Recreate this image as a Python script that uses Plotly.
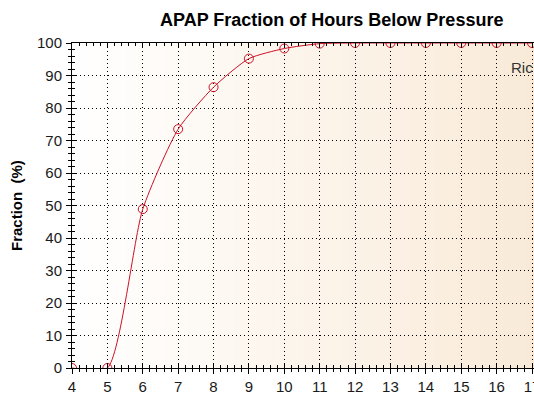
import plotly.graph_objects as go

# Data
pressure = [4, 5, 6, 7, 8, 9, 10, 11, 12, 13, 14, 15, 16, 17]
fraction = [0, 0, 48.9, 73.5, 86.4, 95.2, 98.3, 99.8, 100, 100, 100, 100, 100, 100]
x_ticks = list(range(4, 18))
y_ticks = list(range(0, 101, 10))

title_text = "APAP Fraction of Hours Below Pressure"
y_title = "Fraction  (%)"
legend_text = "Ric"

W, H = 534, 397
ML = 72
MT = 43
MB = 397 - 368
MR = 0
PW = W - ML - MR
PH = H - MT - MB

RED = "#cc1126"
font_family = "Liberation Sans, Arial, sans-serif"

fig = go.Figure()

fig.add_trace(go.Scatter(
    x=pressure, y=fraction, mode="lines+markers",
    line=dict(color=RED, width=1, shape="spline", smoothing=0.6),
    marker=dict(symbol="circle-open", size=9, color=RED, line=dict(width=1, color=RED)),
    showlegend=False, hoverinfo="skip", cliponaxis=True,
))
# invisible trace to activate the overlay axes (for crossing ticks)
fig.add_trace(go.Scatter(
    x=pressure, y=fraction, xaxis="x2", yaxis="y2", mode="lines",
    line=dict(width=0, color="rgba(0,0,0,0)"), showlegend=False, hoverinfo="skip",
))

# gradient background strips
N = 60
c0 = (255, 255, 255)
c1 = (249, 234, 216)
shapes = []
for i in range(N):
    t = (i + 0.5) / N
    col = tuple(round(c0[k] + (c1[k] - c0[k]) * t) for k in range(3))
    shapes.append(dict(
        type="rect", xref="paper", yref="paper",
        x0=i / N, x1=(i + 1) / N + 0.002, y0=0, y1=1,
        fillcolor="rgb(%d,%d,%d)" % col, line=dict(width=0), layer="below",
    ))

px_per_unit = (532 - 72) / 13
xr = [4, 17 + 2 / px_per_unit]

axis_common = dict(
    showline=True, linecolor="black", linewidth=1,
    tickcolor="black", tickwidth=1, zeroline=False,
)


def fx(win_x):
    return (win_x - ML) / PW


def fy(win_y):
    return (H - MB - win_y) / PH


fig.update_layout(
    width=W, height=H,
    margin=dict(l=ML, r=MR, t=MT, b=MB, pad=0, autoexpand=False),
    paper_bgcolor="white", plot_bgcolor="rgba(0,0,0,0)",
    shapes=shapes,
    hovermode=False,
    font=dict(family=font_family, size=15, color="#1a1a1a"),
    xaxis=dict(
        range=xr, tickmode="array", tickvals=x_ticks, ticktext=[str(v) for v in x_ticks],
        ticks="outside", ticklen=5, automargin=False, ticklabeloverflow="allow",
        minor=dict(dtick=0.2, ticks="outside", ticklen=3, tickcolor="black", showgrid=False),
        showgrid=True, gridcolor="black", gridwidth=1, griddash="1px,3px",
        tickfont=dict(size=15, color="#1a1a1a"),
        **axis_common,
    ),
    yaxis=dict(
        range=[0, 100], tickmode="array", tickvals=y_ticks, ticktext=[str(v) for v in y_ticks],
        ticks="outside", ticklen=5, automargin=False,
        minor=dict(dtick=2, ticks="outside", ticklen=3, tickcolor="black", showgrid=False),
        showgrid=True, gridcolor="black", gridwidth=1, griddash="1px,3px",
        tickfont=dict(size=15, color="#1a1a1a"),
        ticklabelstandoff=1,
        **axis_common,
    ),
    xaxis2=dict(
        overlaying="x", matches="x", anchor="y2", side="bottom",
        range=xr, tickmode="array", tickvals=x_ticks,
        ticks="inside", ticklen=5, automargin=False,
        minor=dict(dtick=0.2, ticks="inside", ticklen=3, tickcolor="black", showgrid=False),
        showticklabels=False, showgrid=False, mirror="ticks",
        **axis_common,
    ),
    yaxis2=dict(
        overlaying="y", matches="y", anchor="x2", side="left",
        range=[0, 100], tickmode="array", tickvals=y_ticks,
        ticks="inside", ticklen=5, automargin=False,
        minor=dict(dtick=2, ticks="inside", ticklen=3, tickcolor="black", showgrid=False),
        showticklabels=False, showgrid=False,
        **axis_common,
    ),
    annotations=[
        dict(text="<b>" + title_text + "</b>", xref="paper", yref="paper",
             x=fx(331), y=fy(20),
             xanchor="center", yanchor="middle", showarrow=False,
             font=dict(size=18, color="black", family=font_family)),
        dict(text="<b>" + y_title + "</b>", xref="paper", yref="paper",
             x=fx(17), y=fy(206),
             xanchor="center", yanchor="middle", textangle=-90, showarrow=False,
             font=dict(size=15, color="black", family=font_family)),
        dict(text=legend_text, xref="paper", yref="paper",
             x=fx(509), y=fy(67),
             xanchor="left", yanchor="middle", showarrow=False,
             font=dict(size=15, color="#333333", family=font_family)),
    ],
)

fig.write_html("out.html", config={"displayModeBar": False, "staticPlot": True},
               post_script="document.body.style.margin='0';")
